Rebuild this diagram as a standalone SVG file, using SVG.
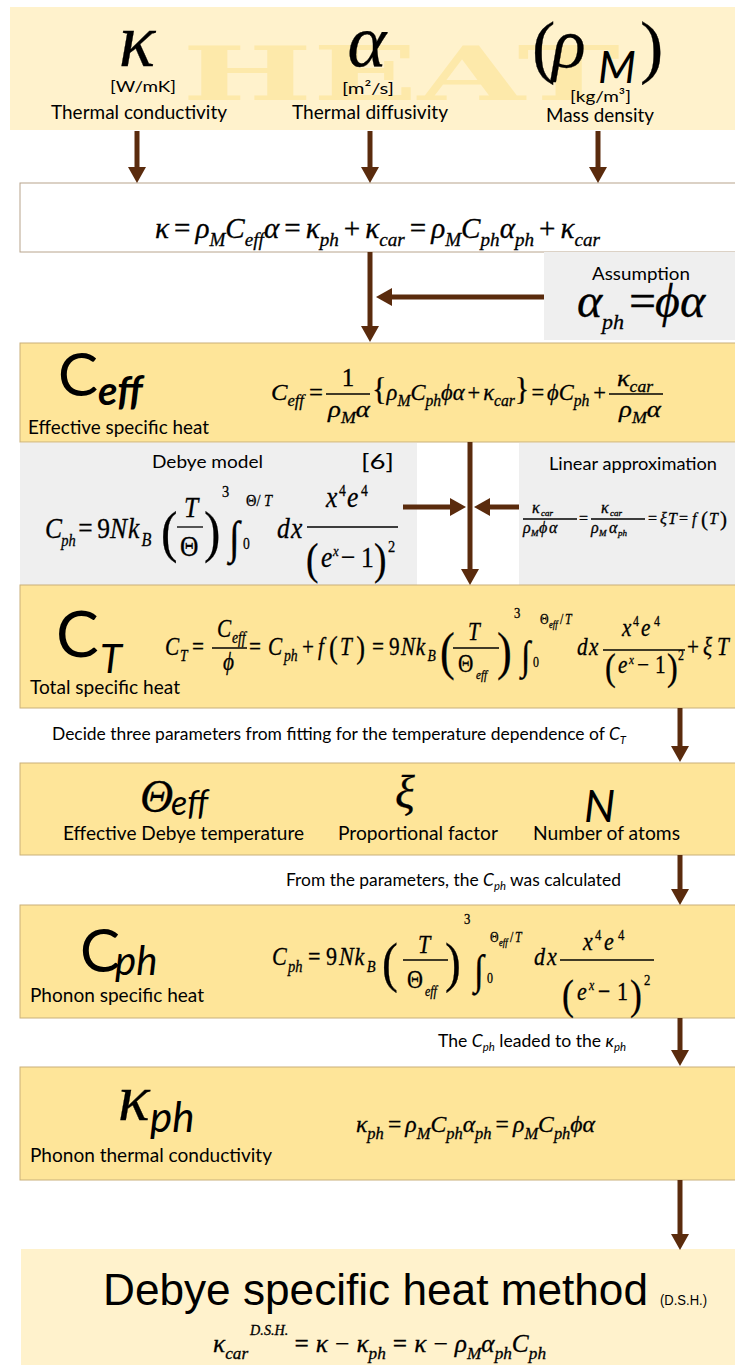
<svg xmlns="http://www.w3.org/2000/svg" width="735" height="1365" viewBox="0 0 735 1365">
<defs>
<marker id="ah" markerUnits="userSpaceOnUse" markerWidth="16" markerHeight="18" refX="1" refY="9" orient="auto">
<path d="M0,0 L16,9 L0,18 z" fill="#5a2b0d"/>
</marker>
<style>
.sans{font-family:Lato,"Open Sans","Liberation Sans",sans-serif;fill:#000}
.lab{font-size:19px}
.cap{font-size:17px}
.mi{font-family:"Liberation Serif","Times New Roman",serif;font-style:italic;fill:#000;stroke:#000;stroke-width:0.3}
.mu{font-family:"Liberation Serif","Times New Roman",serif;font-style:normal}
.it{font-style:italic}
.arrow{stroke:#5a2b0d;stroke-width:5;fill:none;marker-end:url(#ah)}
.bar{stroke:#000;stroke-width:1.3}
.gold{fill:#fee599;stroke:#c9b07a;stroke-width:1}
.cream{fill:#fff2cc}
.gray{fill:#efefef}
</style>
</defs>
<rect width="735" height="1365" fill="#fff"/>

<g id="inputs">
<rect class="cream" x="10" y="7" width="730" height="123"/>
<text x="182" y="100" font-family="'DejaVu Serif',serif" font-weight="bold" font-size="74" fill="#fde9aa" textLength="438" lengthAdjust="spacingAndGlyphs">HEAT</text>
<text class="mi" x="137" y="66" font-size="76" text-anchor="middle">κ</text>
<text class="sans" x="110" y="92" font-size="16" textLength="66" lengthAdjust="spacingAndGlyphs">[W/mK]</text>
<text class="sans lab" x="51" y="119" textLength="176" lengthAdjust="spacingAndGlyphs">Thermal conductivity</text>
<text class="mi" x="367" y="66" font-size="74" text-anchor="middle">α</text>
<text class="sans" x="342" y="94" font-size="16" textLength="52" lengthAdjust="spacingAndGlyphs">[m²/s]</text>
<text class="sans lab" x="292" y="119" textLength="156" lengthAdjust="spacingAndGlyphs">Thermal diffusivity</text>
<text class="mi" font-size="70"><tspan class="mu" x="532" y="70">(</tspan><tspan x="552" y="67">ρ</tspan><tspan class="mu" x="640" y="70">)</tspan></text>
<text class="sans it" x="598" y="83" font-size="44">M</text>
<text class="sans" x="570" y="102" font-size="16" textLength="61" lengthAdjust="spacingAndGlyphs">[kg/m³]</text>
<text class="sans lab" x="546" y="122" textLength="108" lengthAdjust="spacingAndGlyphs">Mass density</text>
</g>

<g id="relation">
<rect x="20" y="183" width="720" height="69" fill="#fff" stroke="#b8a48c" stroke-width="1"/>
<text class="mi" x="155" y="238" font-size="29" textLength="445" lengthAdjust="spacingAndGlyphs">κ<tspan class="mu" dx="5">=</tspan><tspan dx="5">ρ</tspan><tspan dy="8" font-size="19">M</tspan><tspan dy="-8">C</tspan><tspan dy="8" font-size="19">eff</tspan><tspan dy="-8">α</tspan><tspan class="mu" dx="5">=</tspan><tspan dx="5">κ</tspan><tspan dy="8" font-size="19">ph</tspan><tspan class="mu" dy="-8" dx="5">+</tspan><tspan dx="5">κ</tspan><tspan dy="8" font-size="19">car</tspan><tspan class="mu" dy="-8" dx="5">=</tspan><tspan dx="5">ρ</tspan><tspan dy="8" font-size="19">M</tspan><tspan dy="-8">C</tspan><tspan dy="8" font-size="19">ph</tspan><tspan dy="-8">α</tspan><tspan dy="8" font-size="19">ph</tspan><tspan class="mu" dy="-8" dx="5">+</tspan><tspan dx="5">κ</tspan><tspan dy="8" font-size="19">car</tspan></text>
</g>

<g id="assumption">
<rect class="gray" x="544" y="252" width="196" height="88"/>
<text class="sans" x="592" y="280" font-size="18" textLength="98" lengthAdjust="spacingAndGlyphs">Assumption</text>
<text class="mi" font-size="48"><tspan x="577" y="317">α</tspan><tspan x="602" y="329" font-size="22">ph</tspan><tspan class="mu" x="629" y="317">=</tspan><tspan x="655">ϕ</tspan><tspan x="680">α</tspan></text>
</g>

<g id="ceff">
<rect class="gold" x="20" y="343" width="720" height="99"/>
<text class="sans" x="58" y="396" font-size="60">C</text>
<text class="sans it" x="98" y="405" font-size="40" font-weight="bold">eff</text>
<text class="sans lab" x="28" y="434" textLength="181" lengthAdjust="spacingAndGlyphs">Effective specific heat</text>
<text class="mi" x="271" y="400" font-size="24" textLength="52" lengthAdjust="spacingAndGlyphs">C<tspan dy="6" font-size="16">eff</tspan><tspan class="mu" dy="-6" dx="5">=</tspan></text>
<text class="mi mu" x="348" y="386" font-size="25" text-anchor="middle">1</text>
<text class="mi" x="328" y="417" font-size="24" textLength="42" lengthAdjust="spacingAndGlyphs">ρ<tspan dy="6" font-size="16">M</tspan><tspan dy="-6">α</tspan></text>
<text class="mi" x="372" y="400" font-size="23" textLength="234" lengthAdjust="spacingAndGlyphs"><tspan class="mu" font-size="31">{</tspan>ρ<tspan dy="6" font-size="16">M</tspan><tspan dy="-6">C</tspan><tspan dy="6" font-size="16">ph</tspan><tspan dy="-6">ϕα</tspan><tspan class="mu" dx="3">+</tspan><tspan dx="3">κ</tspan><tspan dy="6" font-size="16">car</tspan><tspan class="mu" dy="-6" font-size="31">}</tspan><tspan class="mu" dx="2">=</tspan><tspan dx="3">ϕC</tspan><tspan dy="6" font-size="16">ph</tspan><tspan class="mu" dy="-6" dx="4">+</tspan></text>
<text class="mi" x="617" y="386" font-size="24" textLength="36" lengthAdjust="spacingAndGlyphs">κ<tspan dy="6" font-size="16">car</tspan></text>
<text class="mi" x="619" y="417" font-size="24" textLength="42" lengthAdjust="spacingAndGlyphs">ρ<tspan dy="6" font-size="16">M</tspan><tspan dy="-6">α</tspan></text>
<line class="bar" x1="326" y1="394" x2="370" y2="394"/>
<line class="bar" x1="609" y1="394" x2="663" y2="394"/>
</g>

<g id="debye">
<rect class="gray" x="20" y="443" width="397" height="142"/>
<text class="sans" x="152" y="468" font-size="18" textLength="111" lengthAdjust="spacingAndGlyphs">Debye model</text>
<text class="sans" x="361" y="469" font-size="21" textLength="33" lengthAdjust="spacingAndGlyphs">[6]</text>
<g transform="scale(0.85,1)">
<text class="mi" font-size="30"><tspan x="52.9" y="538">C</tspan><tspan x="72" y="546" font-size="17">ph</tspan><tspan class="mu" x="92" y="538">=</tspan><tspan class="mu" x="114.5">9</tspan><tspan x="129.5">N</tspan><tspan x="150.5">k</tspan><tspan x="166.5" y="546" font-size="19">B</tspan><tspan class="mu" x="189.4" y="551" font-size="58">(</tspan><tspan x="216.5" y="517">T</tspan><tspan class="mu" x="211.8" y="556">Θ</tspan><tspan class="mu" x="240" y="551" font-size="58">)</tspan><tspan class="mu" x="261.2" y="497" font-size="17">3</tspan><tspan x="269.4" y="553" font-size="46">∫</tspan><tspan class="mu" x="285.9" y="549" font-size="16">0</tspan><tspan class="mu" x="289.4" y="506" font-size="17">Θ/</tspan><tspan x="310.6" y="506" font-size="17">T</tspan><tspan x="325.9" y="538">d</tspan><tspan x="342.4">x</tspan><tspan x="383.5" y="507">x</tspan><tspan class="mu" x="398.8" y="496" font-size="16">4</tspan><tspan x="408.2" y="507">e</tspan><tspan class="mu" x="424.7" y="496" font-size="16">4</tspan><tspan class="mu" x="360" y="574" font-size="44">(</tspan><tspan x="377.6" y="567">e</tspan><tspan x="391.8" y="556" font-size="15">x</tspan><tspan class="mu" x="401.2" y="567">−</tspan><tspan class="mu" x="424.7">1</tspan><tspan class="mu" x="440" y="574" font-size="44">)</tspan><tspan class="mu" x="456.5" y="552" font-size="17">2</tspan></text>
</g>
<line class="bar" x1="177" y1="527" x2="203" y2="527"/>
<line class="bar" x1="307" y1="527" x2="398" y2="527"/>
</g>

<g id="linear">
<rect class="gray" x="519" y="443" width="221" height="142"/>
<text class="sans" x="549" y="470" font-size="18" textLength="168" lengthAdjust="spacingAndGlyphs">Linear approximation</text>
<text class="mi" font-size="16"><tspan x="532" y="513">κ</tspan><tspan x="541" y="516" font-size="9">car</tspan><tspan x="523" y="533">ρ</tspan><tspan x="531" y="536" font-size="9">M</tspan><tspan x="539" y="533">ϕ</tspan><tspan x="549">α</tspan><tspan class="mu" x="579" y="524">=</tspan><tspan x="601" y="513">κ</tspan><tspan x="610" y="516" font-size="9">car</tspan><tspan x="591" y="533">ρ</tspan><tspan x="599" y="536" font-size="9">M</tspan><tspan x="609" y="533">α</tspan><tspan x="618" y="536" font-size="9">ph</tspan><tspan class="mu" x="648" y="524">=</tspan><tspan x="660">ξ</tspan><tspan x="668">T</tspan><tspan class="mu" x="679">=</tspan><tspan x="692">f</tspan><tspan class="mu" x="701" y="526" font-size="21">(</tspan><tspan x="709" y="524">T</tspan><tspan class="mu" x="720" y="526" font-size="21">)</tspan></text>
<line class="bar" x1="523" y1="519" x2="577" y2="519"/>
<line class="bar" x1="591" y1="519" x2="645" y2="519"/>
</g>

<g id="ct">
<rect class="gold" x="20" y="585" width="720" height="123"/>
<text class="sans" x="56" y="657" font-size="64">C</text>
<text class="sans it" x="100" y="673" font-size="40">T</text>
<text class="sans lab" x="30" y="694" textLength="150" lengthAdjust="spacingAndGlyphs">Total specific heat</text>
<g transform="scale(0.85,1)">
<text class="mi" font-size="25"><tspan x="194.1" y="655">C</tspan><tspan x="211.8" y="661" font-size="16">T</tspan><tspan class="mu" x="225.9" y="655">=</tspan><tspan x="255.3" y="637">C</tspan><tspan x="272.9" y="643" font-size="16">eff</tspan><tspan x="262.4" y="670">ϕ</tspan><tspan class="mu" x="292.9" y="655">=</tspan><tspan x="315.3">C</tspan><tspan x="334.1" y="661" font-size="16">ph</tspan><tspan class="mu" x="355.3" y="655">+</tspan><tspan x="374.1">f</tspan><tspan class="mu" x="387" y="658" font-size="31">(</tspan><tspan x="400" y="655">T</tspan><tspan class="mu" x="419" y="658" font-size="31">)</tspan><tspan class="mu" x="437.6" y="655">=</tspan><tspan class="mu" x="457.6">9</tspan><tspan x="471.8">N</tspan><tspan x="489">k</tspan><tspan x="503" y="661" font-size="16">B</tspan><tspan class="mu" x="517.6" y="669" font-size="52">(</tspan><tspan x="550.6" y="640">T</tspan><tspan class="mu" x="538.8" y="672">Θ</tspan><tspan x="560" y="679" font-size="13">eff</tspan><tspan class="mu" x="584.7" y="669" font-size="52">)</tspan><tspan class="mu" x="604.7" y="618" font-size="15">3</tspan><tspan x="612.9" y="669" font-size="40">∫</tspan><tspan class="mu" x="627.1" y="667" font-size="14">0</tspan><tspan class="mu" x="635.3" y="624" font-size="14">Θ</tspan><tspan x="645.9" y="628" font-size="10">eff</tspan><tspan class="mu" x="658.8" y="624" font-size="14">/</tspan><tspan x="664.7" y="624" font-size="14">T</tspan><tspan x="678.8" y="655">d</tspan><tspan x="692.9">x</tspan><tspan x="731.8" y="636">x</tspan><tspan class="mu" x="744.7" y="626" font-size="14">4</tspan><tspan x="754.1" y="636">e</tspan><tspan class="mu" x="769.4" y="626" font-size="14">4</tspan><tspan class="mu" x="711.8" y="680" font-size="38">(</tspan><tspan x="727.1" y="673">e</tspan><tspan x="740" y="664" font-size="13">x</tspan><tspan class="mu" x="749.4" y="673">−</tspan><tspan class="mu" x="770.6">1</tspan><tspan class="mu" x="784.7" y="680" font-size="38">)</tspan><tspan class="mu" x="797.6" y="660" font-size="14">2</tspan><tspan class="mu" x="808.2" y="655">+</tspan><tspan x="827.1">ξ</tspan><tspan x="843.5">T</tspan></text>
</g>
<line class="bar" x1="212" y1="648" x2="247" y2="648"/>
<line class="bar" x1="453" y1="648" x2="499" y2="648"/>
<line class="bar" x1="603" y1="650" x2="685" y2="650"/>
</g>

<g id="params">
<rect class="gold" x="20" y="763" width="720" height="92"/>
<text class="mi" x="140" y="812" font-size="46">Θ</text>
<text class="sans it" x="171" y="815" font-size="34">eff</text>
<text class="mi" x="395" y="808" font-size="46">ξ</text>
<text class="sans it" x="584" y="822" font-size="44">N</text>
<text class="sans lab" x="63" y="840" textLength="241" lengthAdjust="spacingAndGlyphs">Effective Debye temperature</text>
<text class="sans lab" x="338" y="840" textLength="160" lengthAdjust="spacingAndGlyphs">Proportional factor</text>
<text class="sans lab" x="533" y="840" textLength="147" lengthAdjust="spacingAndGlyphs">Number of atoms</text>
</g>

<g id="cph">
<rect class="gold" x="20" y="905" width="720" height="113"/>
<text class="sans" x="80" y="972" font-size="60">C</text>
<text class="sans it" x="115" y="975" font-size="40">ph</text>
<text class="sans lab" x="30" y="1002" textLength="174" lengthAdjust="spacingAndGlyphs">Phonon specific heat</text>
<g transform="scale(0.85,1)">
<text class="mi" font-size="26"><tspan x="320" y="965">C</tspan><tspan x="338.8" y="972" font-size="17">ph</tspan><tspan class="mu" x="362.4" y="965">=</tspan><tspan class="mu" x="383.5">9</tspan><tspan x="398.8">N</tspan><tspan x="417">k</tspan><tspan x="431.5" y="972" font-size="17">B</tspan><tspan class="mu" x="449.4" y="981" font-size="56">(</tspan><tspan x="491.8" y="953">T</tspan><tspan class="mu" x="478.8" y="988">Θ</tspan><tspan x="500" y="996" font-size="14">eff</tspan><tspan class="mu" x="523.5" y="981" font-size="56">)</tspan><tspan class="mu" x="545.9" y="924" font-size="15">3</tspan><tspan x="557.6" y="984" font-size="42">∫</tspan><tspan class="mu" x="572.9" y="983" font-size="14">0</tspan><tspan class="mu" x="576.5" y="942" font-size="14">Θ</tspan><tspan x="587.1" y="946" font-size="10">eff</tspan><tspan class="mu" x="600" y="942" font-size="14">/</tspan><tspan x="605.9" y="942" font-size="14">T</tspan><tspan x="628.2" y="965">d</tspan><tspan x="643.5">x</tspan><tspan x="685.9" y="950">x</tspan><tspan class="mu" x="700" y="940" font-size="15">4</tspan><tspan x="710.6" y="950">e</tspan><tspan class="mu" x="727.1" y="940" font-size="15">4</tspan><tspan class="mu" x="661.2" y="1009" font-size="42">(</tspan><tspan x="678.8" y="1000">e</tspan><tspan x="692.9" y="990" font-size="14">x</tspan><tspan class="mu" x="703.5" y="1000">−</tspan><tspan class="mu" x="725.9">1</tspan><tspan class="mu" x="741.2" y="1009" font-size="42">)</tspan><tspan class="mu" x="757.6" y="985" font-size="15">2</tspan></text>
</g>
<line class="bar" x1="403" y1="960" x2="448" y2="960"/>
<line class="bar" x1="560" y1="960" x2="654" y2="960"/>
</g>

<g id="kph">
<rect class="gold" x="20" y="1067" width="720" height="113"/>
<text class="mi" x="118" y="1120" font-size="66">κ</text>
<text class="sans it" x="150" y="1132" font-size="42">ph</text>
<text class="sans lab" x="30" y="1162" textLength="242" lengthAdjust="spacingAndGlyphs">Phonon thermal conductivity</text>
<text class="mi" x="356" y="1132" font-size="23" textLength="239" lengthAdjust="spacingAndGlyphs">κ<tspan dy="7" font-size="16">ph</tspan><tspan class="mu" dy="-7" dx="4">=</tspan><tspan dx="4">ρ</tspan><tspan dy="7" font-size="16">M</tspan><tspan dy="-7">C</tspan><tspan dy="7" font-size="16">ph</tspan><tspan dy="-7">α</tspan><tspan dy="7" font-size="16">ph</tspan><tspan class="mu" dy="-7" dx="4">=</tspan><tspan dx="4">ρ</tspan><tspan dy="7" font-size="16">M</tspan><tspan dy="-7">C</tspan><tspan dy="7" font-size="16">ph</tspan><tspan dy="-7">ϕα</tspan></text>
</g>

<g id="dsh">
<rect class="cream" x="21" y="1249" width="719" height="116"/>
<text x="103" y="1305" font-family="'Liberation Sans',Arial,sans-serif" font-size="44" textLength="545" lengthAdjust="spacingAndGlyphs">Debye specific heat method</text>
<text x="660" y="1305" font-family="'Liberation Sans',Arial,sans-serif" font-size="14" textLength="47" lengthAdjust="spacingAndGlyphs">(D.S.H.)</text>
<text class="mi" x="213" y="1352" font-size="25" textLength="333" lengthAdjust="spacingAndGlyphs">κ<tspan dy="7" font-size="17">car</tspan><tspan dy="-24" font-size="14" dx="2">D.S.H.</tspan><tspan class="mu" dy="17" dx="6">=</tspan><tspan dx="7">κ</tspan><tspan class="mu" dx="7">−</tspan><tspan dx="7">κ</tspan><tspan dy="7" font-size="17">ph</tspan><tspan class="mu" dy="-7" dx="7">=</tspan><tspan dx="7">κ</tspan><tspan class="mu" dx="7">−</tspan><tspan dx="7">ρ</tspan><tspan dy="7" font-size="17">M</tspan><tspan dy="-7">α</tspan><tspan dy="7" font-size="17">ph</tspan><tspan dy="-7">C</tspan><tspan dy="7" font-size="17">ph</tspan></text>
</g>

<g id="captions">
<text class="sans cap" x="52" y="740" textLength="574" lengthAdjust="spacingAndGlyphs">Decide three parameters from fitting for the temperature dependence of <tspan class="it">C</tspan><tspan class="it" font-size="11" dy="4">T</tspan></text>
<text class="sans cap" x="286" y="886" textLength="335" lengthAdjust="spacingAndGlyphs">From the parameters, the <tspan class="it">C</tspan><tspan class="it" font-size="11" dy="4">ph</tspan><tspan dy="-4"> was calculated</tspan></text>
<text class="sans cap" x="438" y="1047" textLength="188" lengthAdjust="spacingAndGlyphs">The <tspan class="it">C</tspan><tspan class="it" font-size="11" dy="4">ph</tspan><tspan dy="-4"> leaded to the </tspan><tspan class="it">κ</tspan><tspan class="it" font-size="11" dy="4">ph</tspan></text>
</g>

<g id="connectors">
<line class="arrow" x1="137" y1="131" x2="137" y2="168"/>
<line class="arrow" x1="370" y1="131" x2="370" y2="168"/>
<line class="arrow" x1="598" y1="131" x2="598" y2="168"/>
<line class="arrow" x1="370" y1="252" x2="370" y2="327"/>
<line class="arrow" x1="544" y1="297" x2="391" y2="297"/>
<line class="arrow" x1="470" y1="442" x2="470" y2="570"/>
<line class="arrow" x1="403" y1="507" x2="451" y2="507"/>
<line class="arrow" x1="519" y1="507" x2="489" y2="507"/>
<line class="arrow" x1="680" y1="708" x2="680" y2="747"/>
<line class="arrow" x1="680" y1="855" x2="680" y2="890"/>
<line class="arrow" x1="680" y1="1018" x2="680" y2="1051"/>
<line class="arrow" x1="680" y1="1180" x2="680" y2="1235"/>
</g>
</svg>
